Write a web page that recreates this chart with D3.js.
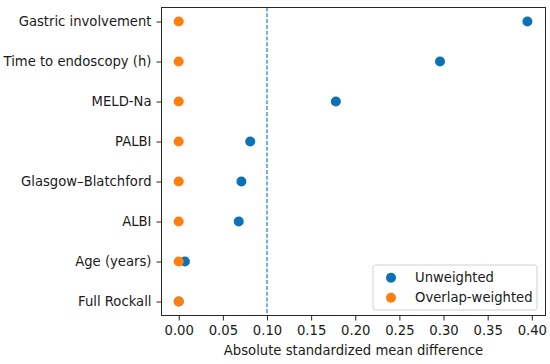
<!DOCTYPE html>
<html>
<head>
<meta charset="utf-8">
<script src="https://cdn.jsdelivr.net/npm/d3@7"></script>
<style>
  body { margin: 0; background: #fff; }
  svg text { font-family: "DejaVu Sans", sans-serif; fill: #1a1a1a; }
</style>
</head>
<body>
<div id="chart"></div>
<script>
// covariates, bottom to top
var covariates = ["Full Rockall", "Age (years)", "ALBI", "Glasgow\u2013Blatchford",
                  "PALBI", "MELD-Na", "Time to endoscopy (h)", "Gastric involvement"];
var unweighted = [0.000, 0.007, 0.068, 0.071, 0.081, 0.178, 0.296, 0.395];
var overlapWeighted = [0.000, 0.000, 0.000, 0.000, 0.000, 0.000, 0.000, 0.000];
var xTicks = [0, 0.05, 0.10, 0.15, 0.20, 0.25, 0.30, 0.35, 0.40];
var threshold = 0.1;
var seriesNames = ["Unweighted", "Overlap-weighted"];
var blue = "#0b72b5";
var orange = "#ff7f0e";

var width = 550, height = 364;
var fontSize = "13.2px";
// plot frame edges (window.top is reserved, so use plot* names)
var plotLeft = 161.5, plotRight = 545.5, plotTop = 7.5, plotBottom = 315.5;

var svg = d3.select("#chart").append("svg")
    .attr("width", width)
    .attr("height", height);

var x = d3.scaleLinear()
    .domain([-0.0195, 0.4155])
    .range([plotLeft, plotRight]);

var y = d3.scaleLinear()
    .domain([-0.35, 7.35])
    .range([plotBottom, plotTop]);

// threshold line
svg.append("line")
    .attr("x1", x(threshold)).attr("x2", x(threshold))
    .attr("y1", plotTop).attr("y2", plotBottom)
    .attr("stroke", blue)
    .attr("stroke-width", 1.1)
    .attr("stroke-dasharray", "4,1.8");

// x axis
var xAxis = svg.append("g")
    .attr("transform", "translate(0," + plotBottom + ")")
    .call(d3.axisBottom(x).tickValues(xTicks).tickFormat(d3.format(".2f")).tickSize(5).tickPadding(5));
xAxis.select(".domain").remove();
xAxis.selectAll("text").style("font-size", fontSize).attr("fill", "#1a1a1a");
xAxis.selectAll("line").attr("stroke", "#262626");

// y axis
var yAxis = svg.append("g")
    .attr("transform", "translate(" + plotLeft + ",0)")
    .call(d3.axisLeft(y).tickValues(d3.range(covariates.length))
        .tickFormat(function(i) { return covariates[i]; }).tickSize(5).tickPadding(5));
yAxis.select(".domain").remove();
yAxis.selectAll("text").style("font-size", fontSize).attr("fill", "#1a1a1a");
yAxis.selectAll("line").attr("stroke", "#262626");

// frame
svg.append("rect")
    .attr("x", plotLeft).attr("y", plotTop)
    .attr("width", plotRight - plotLeft).attr("height", plotBottom - plotTop)
    .attr("fill", "none")
    .attr("stroke", "#262626")
    .attr("stroke-width", 1);

// points
svg.append("g").selectAll("circle")
    .data(unweighted)
    .enter().append("circle")
    .attr("cx", function(d) { return x(d); })
    .attr("cy", function(d, i) { return y(i); })
    .attr("r", 5)
    .attr("fill", blue);

svg.append("g").selectAll("circle")
    .data(overlapWeighted)
    .enter().append("circle")
    .attr("cx", function(d) { return x(d); })
    .attr("cy", function(d, i) { return y(i); })
    .attr("r", 5)
    .attr("fill", orange);

// x label
svg.append("text")
    .attr("x", (plotLeft + plotRight) / 2)
    .attr("y", 355)
    .attr("text-anchor", "middle")
    .style("font-size", fontSize)
    .text("Absolute standardized mean difference");

// legend
var legend = svg.append("g").attr("transform", "translate(373,265)");
legend.append("rect")
    .attr("width", 164).attr("height", 45)
    .attr("rx", 2.5)
    .attr("fill", "#fff").attr("fill-opacity", 0.8)
    .attr("stroke", "#d0d0d0");
var colors = [blue, orange];
seriesNames.forEach(function(name, i) {
    legend.append("circle")
        .attr("cx", 18).attr("cy", 12.7 + i * 20)
        .attr("r", 5).attr("fill", colors[i]);
    legend.append("text")
        .attr("x", 42).attr("y", 12.7 + i * 20)
        .attr("dy", "0.35em")
        .style("font-size", fontSize)
        .text(name);
});
</script>
</body>
</html>
